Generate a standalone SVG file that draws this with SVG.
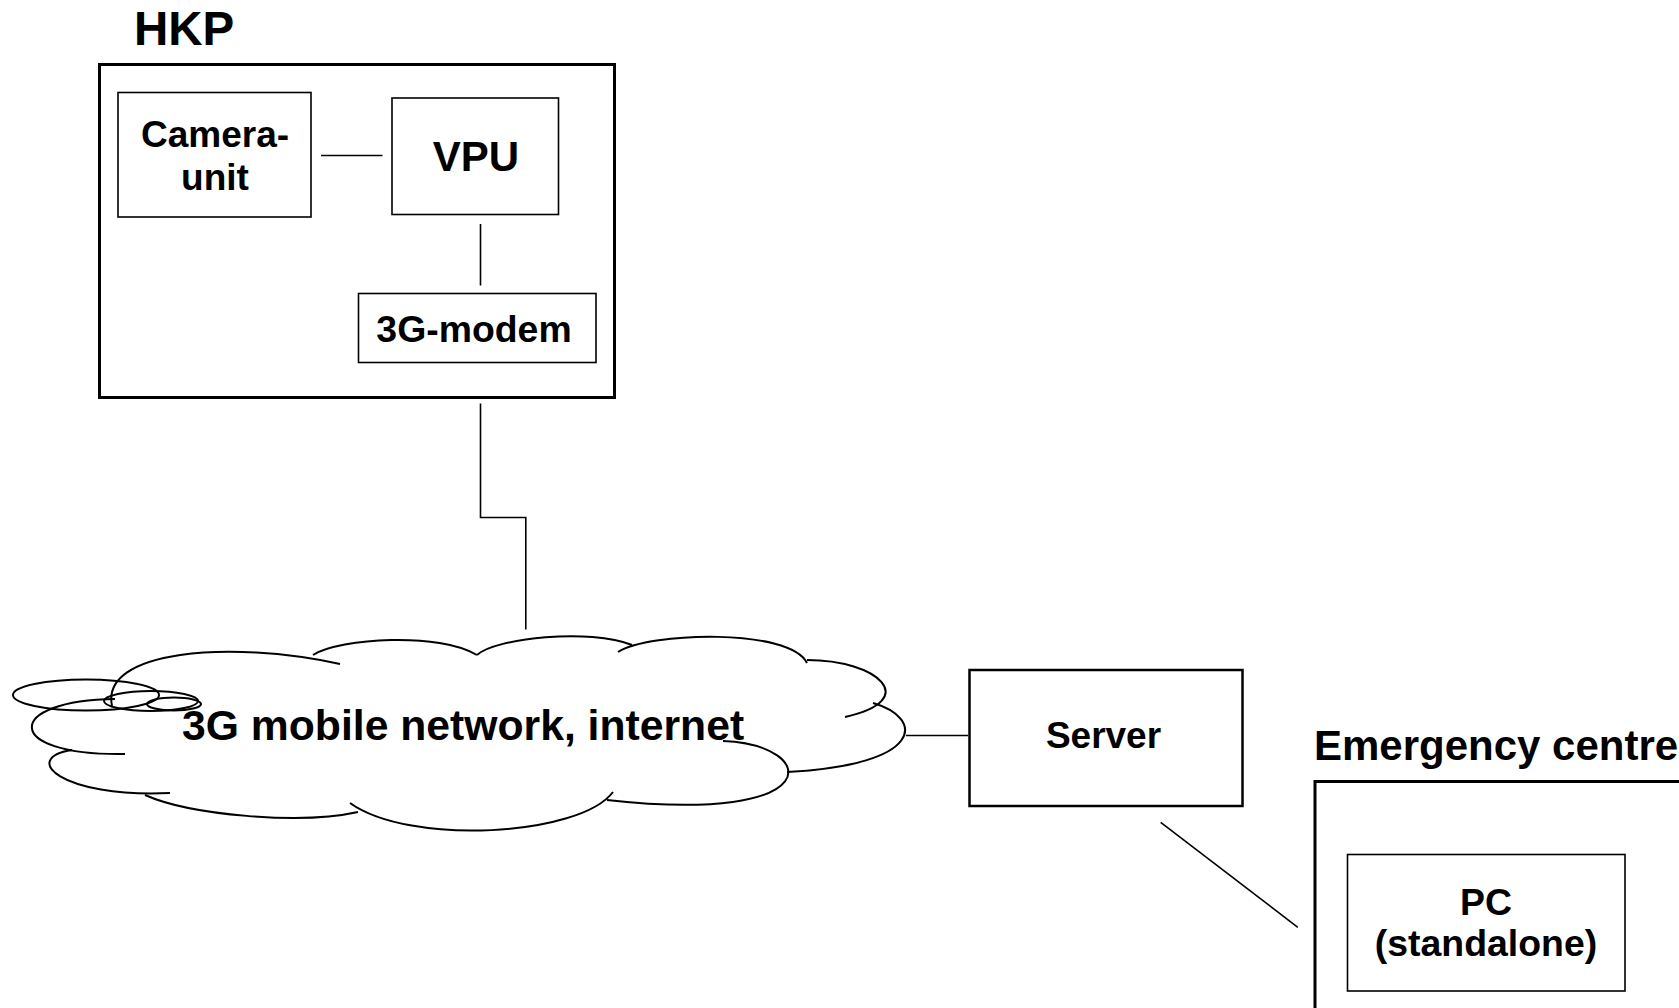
<svg xmlns="http://www.w3.org/2000/svg" width="1679" height="1008" viewBox="0 0 1679 1008">
<style>
  text { font-family: "Liberation Sans", Arial, sans-serif; font-weight: bold; fill: #000; }
  .box { fill: #fff; stroke: #000; }
  .thick { stroke-width: 3; }
  .mid { stroke-width: 2.5; }
  .thin { stroke-width: 1.6; }
  .conn { fill: none; stroke: #000; stroke-width: 1.6; }
  .cloud { fill: none; stroke: #000; stroke-width: 2; }
</style>
<rect x="0" y="0" width="1679" height="1008" fill="#fff"/>

<g id="hkp">
  <text x="134" y="45" font-size="47.5">HKP</text>
  <rect class="box thick" x="99.5" y="64.5" width="515" height="333"/>
</g>

<g id="camera-unit">
  <rect class="box thin" x="118" y="92.5" width="193" height="124.5"/>
  <text x="215" y="147" font-size="37" text-anchor="middle">Camera-</text>
  <text x="215" y="190" font-size="37" text-anchor="middle">unit</text>
</g>

<g id="vpu">
  <rect class="box thin" x="392" y="98" width="166.5" height="116.5"/>
  <text x="476" y="171" font-size="42" text-anchor="middle">VPU</text>
</g>

<g id="modem">
  <rect class="box thin" x="358.5" y="293.5" width="237.5" height="69"/>
  <text x="474" y="342" font-size="37.4" text-anchor="middle">3G-modem</text>
</g>

<g id="cloud">
  <ellipse class="cloud" cx="86" cy="695" rx="73" ry="15.5"/>
  <ellipse class="cloud" cx="151" cy="701" rx="47" ry="10"/>
  <ellipse class="cloud" cx="174" cy="704" rx="27" ry="6.5"/>
  <path class="cloud" d="M112,706 C100,650 230,640 340,664"/>
  <path class="cloud" d="M313,655 C340,638 440,632 477,655"/>
  <path class="cloud" d="M477,655 C495,638 590,628 632,645"/>
  <path class="cloud" d="M618,652 C650,632 790,628 807,663"/>
  <path class="cloud" d="M807,660 C878,660 922,700 845,717"/>
  <path class="cloud" d="M873,703 C925,718 925,765 787,772"/>
  <path class="cloud" d="M723,741 C820,745 830,825 607,800"/>
  <path class="cloud" d="M613,792 C580,836 410,846 350,803"/>
  <path class="cloud" d="M145,795 C190,815 300,825 358,812"/>
  <path class="cloud" d="M170,793 C60,798 20,758 72,750"/>
  <path class="cloud" d="M125,754 C0,756 5,700 115,699"/>
  <text x="182" y="740" font-size="42.7">3G mobile network, internet</text>
</g>

<g id="server">
  <rect class="box mid" x="969.5" y="670" width="273" height="136"/>
  <text x="1103.5" y="748" font-size="37" text-anchor="middle">Server</text>
</g>

<g id="emergency-centre">
  <text x="1314" y="760" font-size="42">Emergency centre</text>
  <rect class="box thick" x="1315" y="781.5" width="420" height="300"/>
</g>

<g id="pc">
  <rect class="box thin" x="1347.5" y="854.5" width="277.5" height="136.5" stroke-width="2"/>
  <text x="1486" y="915" font-size="37.4" text-anchor="middle">PC</text>
  <text x="1486" y="956" font-size="37.4" text-anchor="middle">(standalone)</text>
</g>

<g id="connectors">
  <line class="conn" x1="321" y1="155.5" x2="382.5" y2="155.5"/>
  <line class="conn" x1="480.5" y1="224" x2="480.5" y2="285.5"/>
  <polyline class="conn" points="480.5,403.5 480.5,517.5 525.8,517.5 525.8,629.5"/>
  <line class="conn" x1="906" y1="735.5" x2="968" y2="735.5"/>
  <line class="conn" x1="1160.7" y1="822.4" x2="1297.8" y2="927.3"/>
</g>
</svg>
